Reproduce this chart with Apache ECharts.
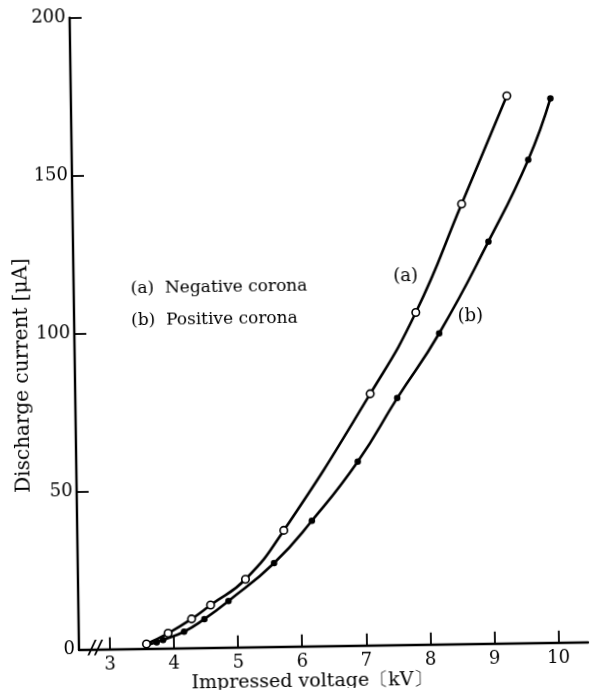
<!DOCTYPE html>
<html>
<head>
<meta charset="utf-8">
<script src="https://cdn.jsdelivr.net/npm/echarts@6/dist/echarts.min.js"></script>
<style>
  html, body { margin:0; padding:0; background:#fff; }
  #chart { width:593px; height:692px; transform: rotate(-0.85deg); transform-origin: 79px 649.7px; }
</style>
</head>
<body>
<div id="chart"></div>
<script>
// ---- data ----
const xTicks = [3, 4, 5, 6, 7, 8, 9, 10];
const yTicks = [0, 50, 100, 150, 200];

// (a) Negative corona (open circles)
const negVoltage = [3.57, 3.91, 4.28, 4.58, 5.13, 5.74, 7.12, 7.85, 8.59, 9.32];
const negCurrent = [1.5, 4.8, 9.2, 13.5, 21.5, 36.8, 79.6, 105.1, 139.2, 173.2];

// (b) Positive corona (filled circles)
const posVoltage = [3.73, 3.83, 4.16, 4.48, 4.86, 5.58, 6.18, 6.91, 7.54, 8.21, 9.00, 9.64, 10.00];
const posCurrent = [2.0, 2.7, 5.2, 9.1, 14.7, 26.5, 39.7, 58.2, 78.1, 98.4, 127.2, 152.9, 172.2];
const posCurveStart = [3.57, 1.0];

const curveLabels = ['(a)', '(b)'];
const curveLabelPos = [[7.70, 116.7], [8.70, 103.5]];
const legendLines = ['(a)  Negative corona', '(b)  Positive corona'];
const breakPos = [2.77, 0];

const xName = 'Impressed voltage〔kV〕';
const yName = 'Discharge current [μA]';

// ---- build ----
const FONT = '"DejaVu Serif", "Liberation Serif", serif';
const negData = negVoltage.map((v, i) => [v, negCurrent[i]]);
const posData = [{ value: posCurveStart, symbol: 'none' }].concat(posVoltage.map((v, i) => [v, posCurrent[i]]));

const chart = echarts.init(document.getElementById('chart'), null, { renderer: 'canvas' });
chart.setOption({
  animation: false,
  backgroundColor: '#fff',
  grid: { left: 79, right: 5, top: 17.6, bottom: 42.3, containLabel: false, outerBoundsMode: 'none' },
  xAxis: {
    type: 'value', min: 2.516, max: 10.46,
    name: xName, nameLocation: 'middle', nameGap: 26, nameMoveOverlap: false,
    nameTextStyle: { color: '#000', fontFamily: FONT, fontSize: 19, padding: [0, 44, 0, 0] },
    axisLine: { onZero: true, lineStyle: { color: '#000', width: 2.4 } },
    axisTick: { show: true, inside: true, length: 12, customValues: xTicks, lineStyle: { color: '#000', width: 1.8 } },
    axisLabel: { customValues: xTicks, color: '#000', fontFamily: FONT, fontSize: 18, margin: 7 },
    splitLine: { show: false }
  },
  yAxis: {
    type: 'value', min: 0, max: 200, interval: 50,
    name: yName, nameLocation: 'middle', nameGap: 42, nameRotate: 90, nameMoveOverlap: false,
    nameTextStyle: { color: '#000', fontFamily: FONT, fontSize: 20, padding: [0, 82, 0, 0] },
    axisLine: { show: true, lineStyle: { color: '#000', width: 2.4 } },
    axisTick: { show: true, inside: true, length: 12, lineStyle: { color: '#000', width: 1.8 } },
    axisLabel: { color: '#000', fontFamily: FONT, fontSize: 18, margin: 4, formatter: v => yTicks.includes(v) ? String(v) : '' },
    splitLine: { show: false }
  },
  series: [
    {
      name: 'Negative corona', type: 'line', data: negData, smooth: 0.5,
      symbol: 'circle', symbolSize: 7.5, showSymbol: true,
      lineStyle: { color: '#000', width: 2.6 },
      itemStyle: { color: '#fff', borderColor: '#000', borderWidth: 1.6 },
      z: 3,
      markPoint: {
        symbol: 'circle', symbolSize: 0, silent: true,
        label: { show: true, position: 'inside', color: '#000', fontFamily: FONT, fontSize: 18 },
        data: [
          { coord: curveLabelPos[0], label: { formatter: curveLabels[0] } },
          { coord: curveLabelPos[1], label: { formatter: curveLabels[1] } },
          { coord: breakPos, label: { formatter: '//', fontSize: 18, fontStyle: 'italic', fontWeight: 'bold' } }
        ]
      }
    },
    {
      name: 'Positive corona', type: 'line', data: posData, smooth: 0.5,
      symbol: 'circle', symbolSize: 6.5, showSymbol: true,
      lineStyle: { color: '#000', width: 2.6 },
      itemStyle: { color: '#000' },
      z: 2
    }
  ],
  graphic: [
    { type: 'text', x: 136, y: 290, style: { text: legendLines[0], font: '17px ' + FONT, fill: '#000', verticalAlign: 'middle', textVerticalAlign: 'middle' } },
    { type: 'text', x: 136, y: 322, style: { text: legendLines[1], font: '17px ' + FONT, fill: '#000', verticalAlign: 'middle', textVerticalAlign: 'middle' } }
  ]
});
</script>
</body>
</html>
